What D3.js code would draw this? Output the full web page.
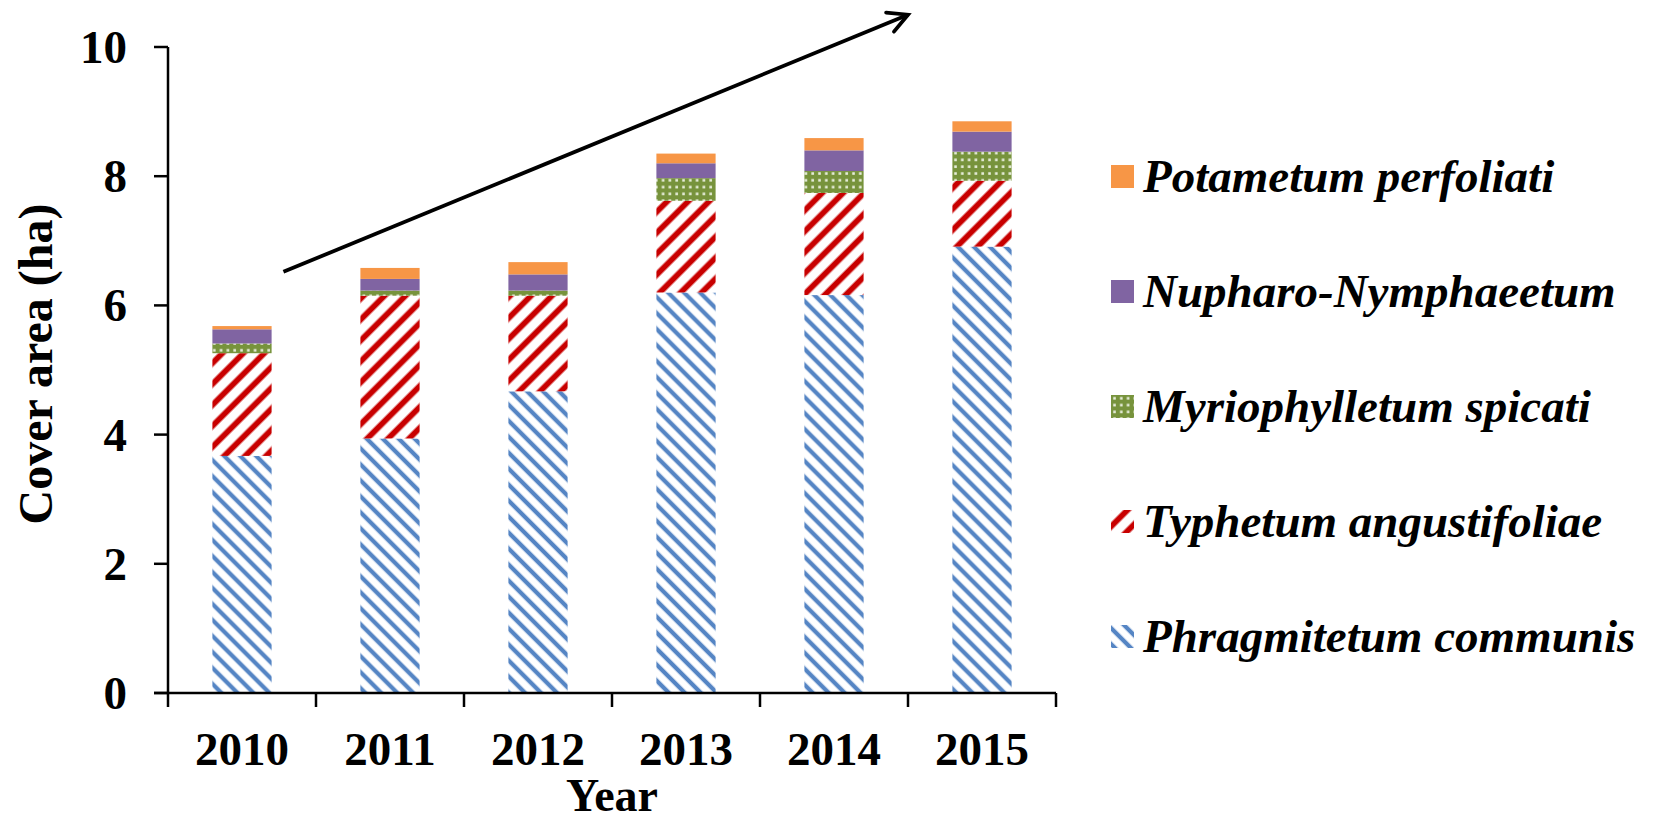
<!DOCTYPE html>
<html>
<head>
<meta charset="utf-8">
<script src="https://cdn.jsdelivr.net/npm/d3@7"></script>
<style>
  html, body { margin: 0; padding: 0; background: #fff; }
  svg { display: block; }
  text { font-family: "Liberation Serif", "Times New Roman", serif; font-weight: bold; fill: #000; }
</style>
</head>
<body>
<svg id="viz" width="1665" height="821"></svg>
<script>
const years = ["2010", "2011", "2012", "2013", "2014", "2015"];
const communities = ["Phragmitetum communis", "Typhetum angustifoliae", "Myriophylletum spicati", "Nupharo-Nymphaeetum", "Potametum perfoliati"];
const phragmitetum = [3.67, 3.94, 4.67, 6.20, 6.16, 6.91];
const typhetum = [1.59, 2.21, 1.48, 1.42, 1.58, 1.02];
const myriophylletum = [0.15, 0.08, 0.08, 0.35, 0.34, 0.45];
const nupharo = [0.22, 0.18, 0.25, 0.23, 0.32, 0.31];
const potametum = [0.05, 0.17, 0.19, 0.15, 0.19, 0.16];
const yTicks = [0, 2, 4, 6, 8, 10];
// trend arrow, in (category position, ha)
const arrowFrom = [0.78, 6.52];
const arrowTo = [5.0, 10.5];

const seriesValues = [phragmitetum, typhetum, myriophylletum, nupharo, potametum];
const rows = years.map((yr, i) => {
    const r = {year: yr};
    communities.forEach((c, k) => r[c] = seriesValues[k][i]);
    return r;
});

const svg = d3.select("#viz");
const plotLeft = 168, plotRight = 1056, plotTop = 47, plotBottom = 693;

const x = d3.scaleBand().domain(years).range([plotLeft, plotRight]).paddingInner(0.6).paddingOuter(0.3);
const xPos = d3.scaleLinear().domain([0, years.length]).range([plotLeft, plotRight]);
const y = d3.scaleLinear().domain([0, 10]).range([plotBottom, plotTop]);

// patterns
const defs = svg.append("defs");
const stripe = (id, color, period, width, angle) => {
    const p = defs.append("pattern").attr("id", id)
        .attr("patternUnits", "userSpaceOnUse")
        .attr("width", period).attr("height", period)
        .attr("patternTransform", `rotate(${angle})`);
    p.append("rect").attr("width", period).attr("height", period).attr("fill", "#fff");
    p.append("rect").attr("x", (period - width) / 2).attr("width", width).attr("height", period).attr("fill", color);
};
stripe("p-phrag", "#5585c4", 11.3, 4.3, -45);
stripe("p-typha", "#c80000", 14.8, 5.8, 45);
const dots = defs.append("pattern").attr("id", "p-myrio")
    .attr("patternUnits", "userSpaceOnUse").attr("width", 6.8).attr("height", 6.8);
dots.append("rect").attr("width", 6.8).attr("height", 6.8).attr("fill", "#77933c");
dots.append("rect").attr("x", 2.2).attr("y", 2.2).attr("width", 2.6).attr("height", 2.6).attr("fill", "#e8eedc");

const fills = ["url(#p-phrag)", "url(#p-typha)", "url(#p-myrio)", "#8064a2", "#f79646"];

const stacked = d3.stack().keys(communities)(rows);

svg.append("g").selectAll("g")
    .data(stacked)
    .join("g")
    .attr("fill", (d, i) => fills[i])
    .selectAll("rect")
    .data((d) => d)
    .join("rect")
    .attr("x", (d) => x(d.data.year))
    .attr("width", x.bandwidth())
    .attr("y", (d) => y(d[1]))
    .attr("height", (d) => y(d[0]) - y(d[1]));

// y axis
const yAxis = svg.append("g");
yAxis.append("line").attr("x1", plotLeft).attr("x2", plotLeft).attr("y1", y(10)).attr("y2", y(0))
    .attr("stroke", "#000").attr("stroke-width", 2.5);
yAxis.selectAll("line.tick")
    .data(yTicks)
    .join("line")
    .attr("class", "tick")
    .attr("x1", plotLeft - 14).attr("x2", plotLeft)
    .attr("y1", (d) => y(d)).attr("y2", (d) => y(d))
    .attr("stroke", "#000").attr("stroke-width", 2.5);
yAxis.selectAll("text")
    .data(yTicks)
    .join("text")
    .attr("x", 127).attr("y", (d) => y(d))
    .attr("dy", "0.34em")
    .attr("text-anchor", "end")
    .style("font-size", "47px")
    .text((d) => d);

// x axis
const xAxis = svg.append("g");
xAxis.append("line").attr("x1", plotLeft - 14).attr("x2", plotRight).attr("y1", plotBottom).attr("y2", plotBottom)
    .attr("stroke", "#000").attr("stroke-width", 2.5);
xAxis.selectAll("line.tick")
    .data(d3.range(years.length + 1))
    .join("line")
    .attr("class", "tick")
    .attr("x1", (d) => xPos(d)).attr("x2", (d) => xPos(d))
    .attr("y1", plotBottom).attr("y2", plotBottom + 14)
    .attr("stroke", "#000").attr("stroke-width", 2.5);
xAxis.selectAll("text")
    .data(years)
    .join("text")
    .attr("x", (d) => x(d) + x.bandwidth() / 2)
    .attr("y", 765)
    .attr("text-anchor", "middle")
    .style("font-size", "47px")
    .text((d) => d);

svg.append("text")
    .attr("x", (plotLeft + plotRight) / 2).attr("y", 811)
    .attr("text-anchor", "middle")
    .style("font-size", "46px")
    .text("Year");

svg.append("text")
    .attr("transform", "translate(52,364) rotate(-90)")
    .attr("text-anchor", "middle")
    .style("font-size", "48px")
    .text("Cover area (ha)");

// trend arrow
const ax1 = xPos(arrowFrom[0]), ay1 = y(arrowFrom[1]);
const ax2 = xPos(arrowTo[0]), ay2 = y(arrowTo[1]);
const ang = Math.atan2(ay2 - ay1, ax2 - ax1);
const headLen = 22, headAng = 28 * Math.PI / 180;
const arm = (s) => [ax2 - headLen * Math.cos(ang + s * headAng), ay2 - headLen * Math.sin(ang + s * headAng)];
svg.append("path")
    .attr("d", d3.line()([[ax1, ay1], [ax2, ay2]]))
    .attr("stroke", "#000").attr("stroke-width", 3.8).attr("fill", "none");
svg.append("path")
    .attr("d", d3.line()([arm(1), [ax2, ay2], arm(-1)]))
    .attr("stroke", "#000").attr("stroke-width", 3.8).attr("fill", "none")
    .attr("stroke-linecap", "round").attr("stroke-linejoin", "miter");

// legend, top entry is the top of the stack
const legend = svg.append("g").selectAll("g")
    .data(communities.map((c, i) => ({name: c, fill: fills[i]})).reverse())
    .join("g")
    .attr("transform", (d, i) => `translate(1111,${192 + i * 115})`);
legend.append("rect")
    .attr("y", -27).attr("width", 23).attr("height", 23)
    .attr("fill", (d) => d.fill);
legend.append("text")
    .attr("x", 32)
    .style("font-size", "47px")
    .style("font-style", "italic")
    .text((d) => d.name);
</script>
</body>
</html>
